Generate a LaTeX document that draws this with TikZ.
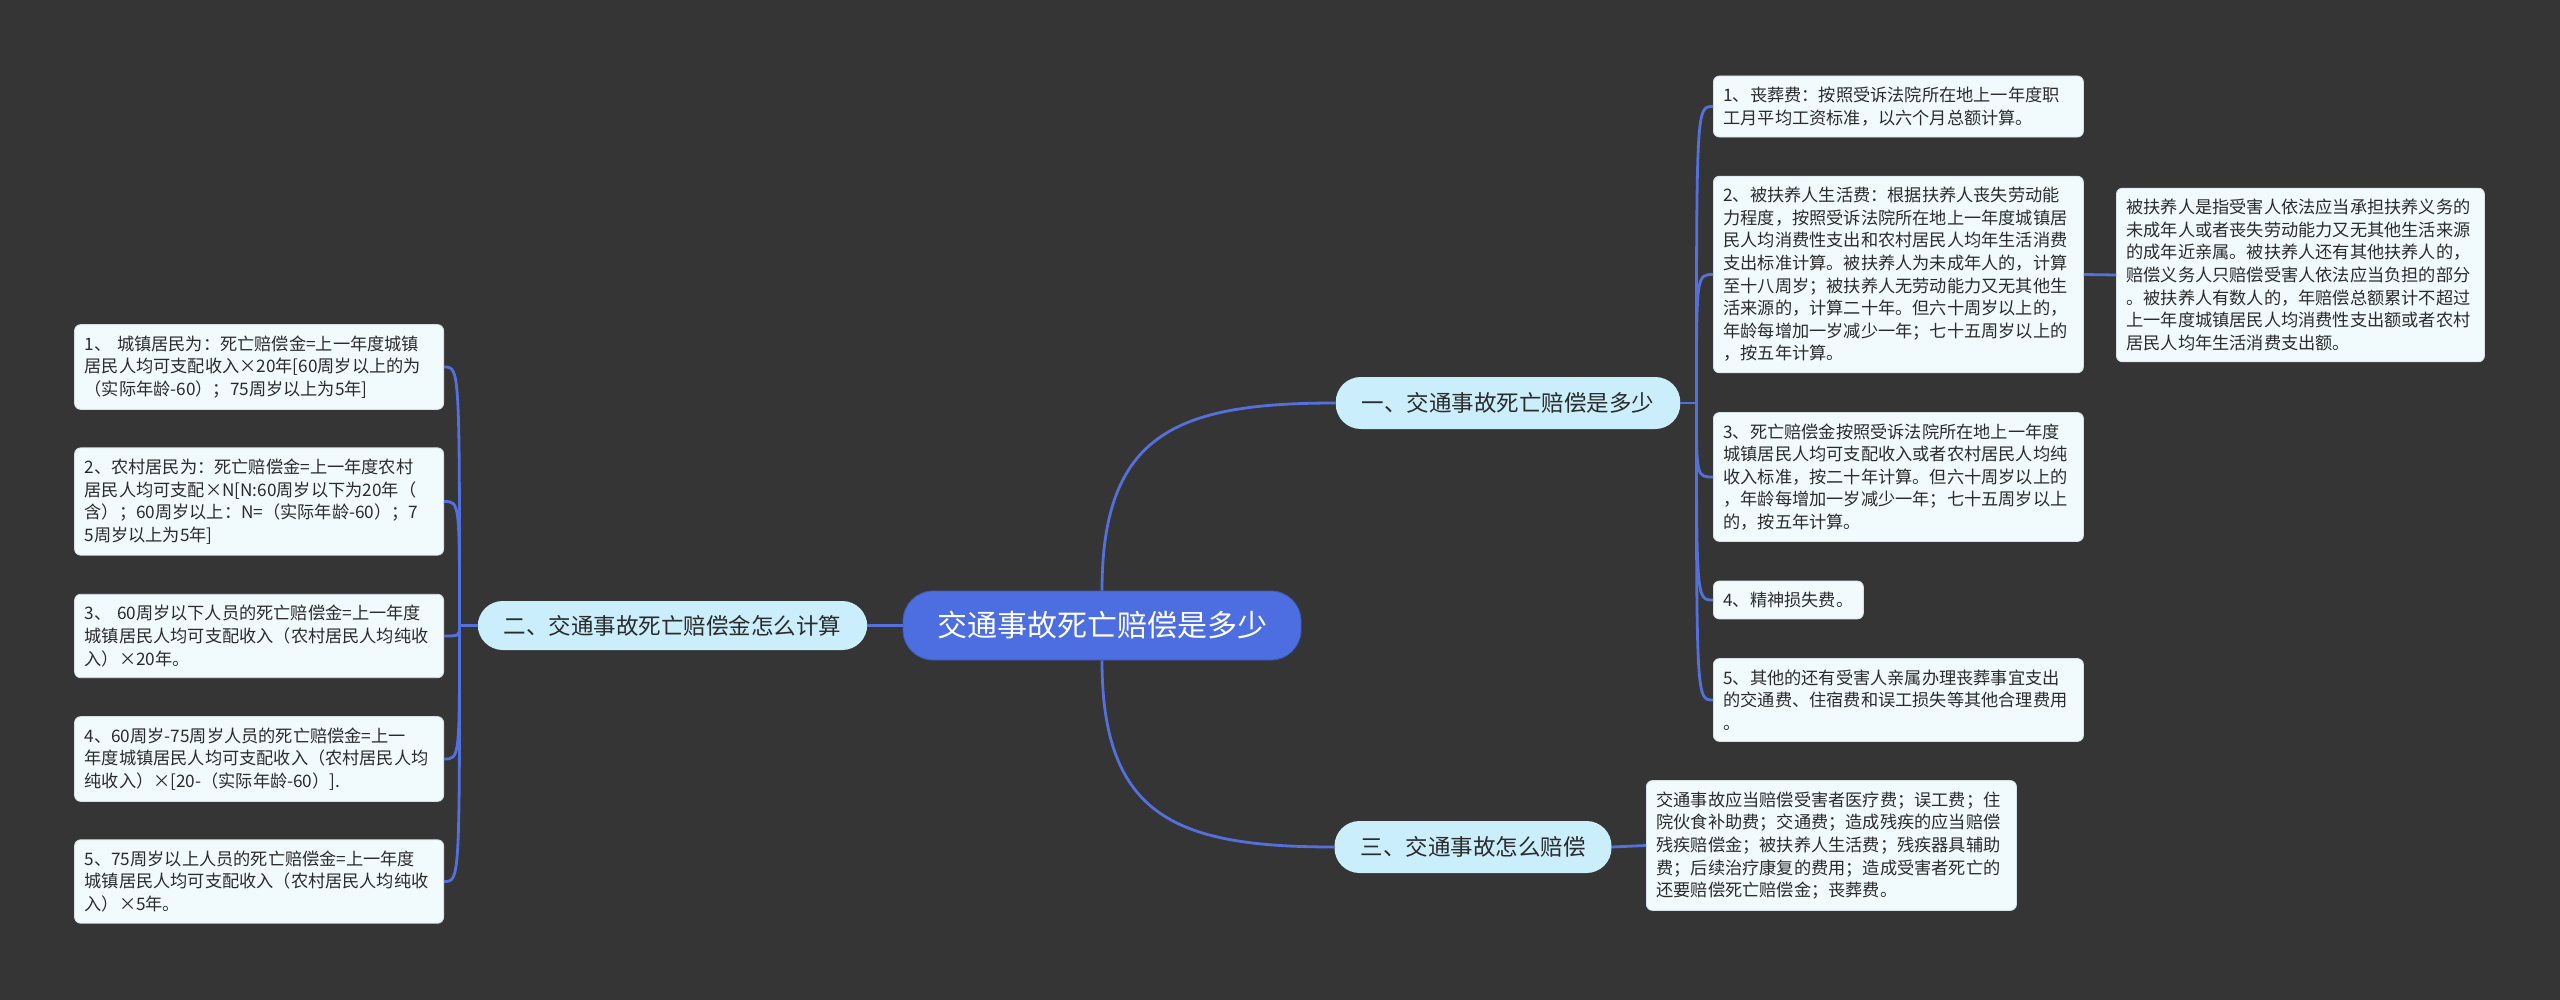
\documentclass[tikz,border=0pt]{standalone}
\usepackage{fontspec}
\setmainfont{Noto Sans CJK SC}
\usetikzlibrary{calc}
\definecolor{canvas}{HTML}{363535}
\definecolor{wire}{HTML}{5470DC}
\definecolor{rootfill}{HTML}{4C6EE0}
\definecolor{topicfill}{HTML}{CAEEFB}
\definecolor{leaffill}{HTML}{F1FBFD}
\definecolor{leafline}{HTML}{D5E2E8}
\definecolor{ink}{HTML}{2B2B2B}
\newcommand\leafsize{\fontsize{17.2}{22.6}\selectfont}
\newcommand\topicsize{\fontsize{22.5}{26}\selectfont}
\newcommand\rootsize{\fontsize{30}{34}\selectfont}

\begin{document}
\begin{tikzpicture}[
  x=1pt,y=-1pt,
  link/.style={draw=wire,line width=2.8pt},
  main/.style={fill=rootfill,draw=rootfill!80!black,line width=0.8pt,rounded corners=30pt,
               minimum width=398pt,minimum height=69pt,font=\rootsize,text=white},
  topic/.style={fill=topicfill,rounded corners=25pt,inner xsep=26pt,
                minimum height=52pt,font=\topicsize,text=ink},
  card/.style={fill=leaffill,draw=leafline,line width=0.8pt,rounded corners=6pt,
               inner xsep=10pt,inner ysep=11pt,align=left,font=\leafsize,text=ink},
  wide/.style={card,text width=350pt}
]

% Canvas
\fill[canvas] (0,0) rectangle (2560,1000);
\useasboundingbox (0,0) rectangle (2560,1000);

% Root and topics
\node[main] (root) at (1102,625.5) {交通事故死亡赔偿是多少};
\node[topic] (b1) at (1508,403) {一、交通事故死亡赔偿是多少};
\node[topic,minimum height=49pt] (b2) at (672.5,625.5) {二、交通事故死亡赔偿金怎么计算};
\node[topic] (b3) at (1473,847) {三、交通事故怎么赔偿};

% Right column under topic one
\node[wide,anchor=west] (r1) at (1713,106.5)
  {1、丧葬费：按照受诉法院所在地上一年度职\\工月平均工资标准，以六个月总额计算。};
\node[wide,anchor=west] (r2) at (1713,274.5)
  {2、被扶养人生活费：根据扶养人丧失劳动能\\
   力程度，按照受诉法院所在地上一年度城镇居\\
   民人均消费性支出和农村居民人均年生活消费\\
   支出标准计算。被扶养人为未成年人的，计算\\
   至十八周岁；被扶养人无劳动能力又无其他生\\
   活来源的，计算二十年。但六十周岁以上的，\\
   年龄每增加一岁减少一年；七十五周岁以上的\\
   ，按五年计算。};
\node[wide,anchor=west] (r3) at (1713,477)
  {3、死亡赔偿金按照受诉法院所在地上一年度\\
   城镇居民人均可支配收入或者农村居民人均纯\\
   收入标准，按二十年计算。但六十周岁以上的\\
   ，年龄每增加一岁减少一年；七十五周岁以上\\
   的，按五年计算。};
\node[card,anchor=west] (r4) at (1713,600) {4、精神损失费。};
\node[wide,anchor=west] (r5) at (1713,700)
  {5、其他的还有受害人亲属办理丧葬事宜支出\\
   的交通费、住宿费和误工损失等其他合理费用\\
   。};
\node[wide,anchor=west,text width=348pt] (r2a) at (2116,275)
  {被扶养人是指受害人依法应当承担扶养义务的\\
   未成年人或者丧失劳动能力又无其他生活来源\\
   的成年近亲属。被扶养人还有其他扶养人的，\\
   赔偿义务人只赔偿受害人依法应当负担的部分\\
   。被扶养人有数人的，年赔偿总额累计不超过\\
   上一年度城镇居民人均消费性支出额或者农村\\
   居民人均年生活消费支出额。};

% Topic three
\node[wide,anchor=west] (b3a) at (1646,845.5)
  {交通事故应当赔偿受害者医疗费；误工费；住\\
   院伙食补助费；交通费；造成残疾的应当赔偿\\
   残疾赔偿金；被扶养人生活费；残疾器具辅助\\
   费；后续治疗康复的费用；造成受害者死亡的\\
   还要赔偿死亡赔偿金；丧葬费。};

% Left column under topic two
\node[wide,anchor=east,text width=349pt] (l1) at (444,367)
  {1、 城镇居民为：死亡赔偿金=上一年度城镇\\
   居民人均可支配收入×20年[60周岁以上的为\\
   （实际年龄-60）；75周岁以上为5年]};
\node[wide,anchor=east,text width=349pt] (l2) at (444,501.5)
  {2、农村居民为：死亡赔偿金=上一年度农村\\
   居民人均可支配×N[N:60周岁以下为20年（\\
   含）；60周岁以上：N=（实际年龄-60）；7\\
   5周岁以上为5年]};
\node[wide,anchor=east,text width=349pt] (l3) at (444,636)
  {3、 60周岁以下人员的死亡赔偿金=上一年度\\
   城镇居民人均可支配收入（农村居民人均纯收\\
   入）×20年。};
\node[wide,anchor=east,text width=349pt] (l4) at (444,759)
  {4、60周岁-75周岁人员的死亡赔偿金=上一\\
   年度城镇居民人均可支配收入（农村居民人均\\
   纯收入）×[20-（实际年龄-60）].};
\node[wide,anchor=east,text width=349pt] (l5) at (444,881.5)
  {5、75周岁以上人员的死亡赔偿金=上一年度\\
   城镇居民人均可支配收入（农村居民人均纯收\\
   入）×5年。};

% Junction points
\coordinate (j1) at ($(b1.east)+(16,0)$);
\coordinate (j2) at ($(b2.west)+(-18,0)$);

% Connectors
\draw[link] (root.north) to[out=90,in=180,looseness=1.35] (b1.west);
\draw[link] (root.south) to[out=-90,in=180,looseness=1.35] (b3.west);
\draw[link] (root.west) -- (b2.east);
\draw[link] (b1.east) -- (j1);
\foreach \n in {r1,r2,r3,r4,r5}
  \draw[link] (j1) .. controls (j1 |- \n.west) .. (\n.west);
\draw[link] (b2.west) -- (j2);
\foreach \n in {l1,l2,l3,l4,l5}
  \draw[link] (j2) .. controls (j2 |- \n.east) .. (\n.east);
\draw[link] (r2.east) -- (r2a.west);
\draw[link] (b3.east) -- (b3a.west);

\end{tikzpicture}
\end{document}
